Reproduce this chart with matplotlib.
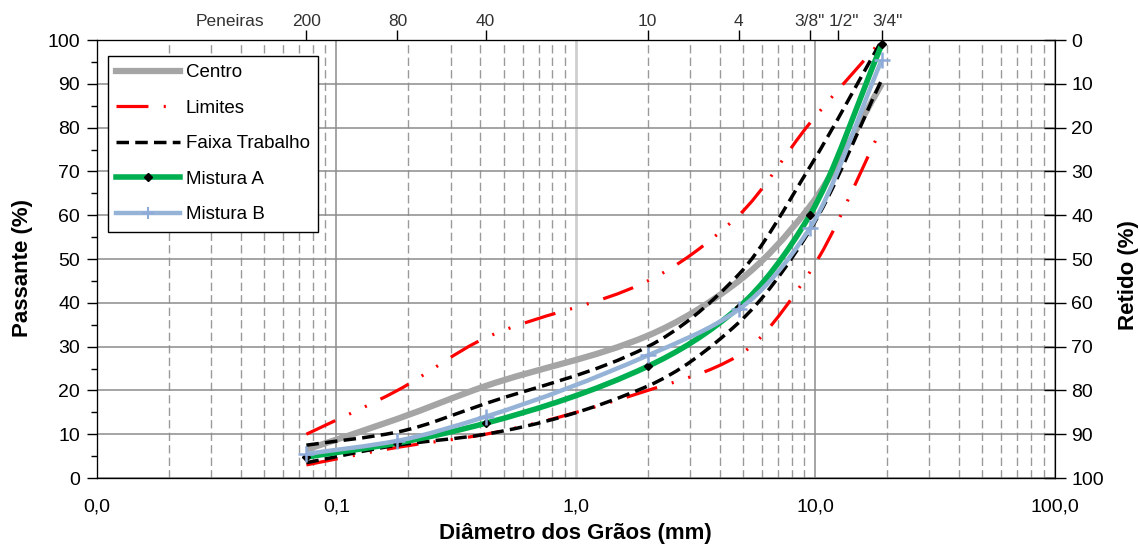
import numpy as np
import matplotlib
matplotlib.use('Agg')
import matplotlib.pyplot as plt
import matplotlib.transforms as mtransforms
from matplotlib.path import Path
from matplotlib.patches import PathPatch
from matplotlib.lines import Line2D
from matplotlib.ticker import FixedLocator, LogLocator, MultipleLocator, NullFormatter

plt.rcParams['font.family'] = ['Liberation Sans', 'DejaVu Sans']
plt.rcParams['lines.scale_dashes'] = False

# DATA: sieve openings (mm) and % passing
sieves = [0.075, 0.18, 0.42, 2.0, 4.8, 9.5, 19.0]
centro = [6.5, 13.5, 21, 32.5, 45, 62, 90]
lim_sup = [10, 20, 32, 45, 60, 81, 100]
lim_inf = [3, 7, 10, 20, 28, 47, 80]
faixa_sup = [7.5, 10.5, 17, 30, 46.5, 71, 100]
faixa_inf = [3.5, 7.5, 10, 21, 35.5, 56.5, 91]
mistura_a = [4.8, 8, 12.5, 25.5, 39, 60, 99]
mistura_b = [5.5, 8.5, 14, 28, 38.5, 57, 95.5]

# top axis sieve marks
sieve_ticks = [0.075, 0.18, 0.42, 2.0, 4.8, 9.5, 12.5, 19.0]
sieve_names = ['200', '80', '40', '10', '4', '3/8"', '1/2"', '3/4"']

x_ticks = [0.01, 0.1, 1, 10, 100]
x_ticklabels = ['0,0', '0,1', '1,0', '10,0', '100,0']
y_ticks = np.arange(0, 101, 10)


def smooth_path(x, y):
    # smoothed line through the points (monotone cubic, in log-x space)
    lx = np.log10(x)
    y = np.asarray(y, float)
    h = np.diff(lx)
    d = np.diff(y) / h
    n = len(lx)
    m = np.zeros(n)
    m[0], m[-1] = d[0], d[-1]
    for k in range(1, n - 1):
        if d[k - 1] * d[k] > 0:
            w1 = 2 * h[k] + h[k - 1]
            w2 = h[k] + 2 * h[k - 1]
            m[k] = (w1 + w2) / (w1 / d[k - 1] + w2 / d[k])
    verts = [(lx[0], y[0])]
    codes = [Path.MOVETO]
    for k in range(n - 1):
        verts += [(lx[k] + h[k] / 3, y[k] + m[k] * h[k] / 3),
                  (lx[k + 1] - h[k] / 3, y[k + 1] - m[k + 1] * h[k] / 3),
                  (lx[k + 1], y[k + 1])]
        codes += [Path.CURVE4] * 3
    verts = np.array(verts)
    verts[:, 0] = 10 ** verts[:, 0]
    return Path(verts, codes)


def curve(ax, x, y, **kw):
    ax.add_patch(PathPatch(smooth_path(x, y), fill=False, capstyle='butt', **kw))


fig = plt.figure(figsize=(11.4, 5.49), dpi=100)
ax = fig.add_axes([0.085, 0.1293, 0.84, 0.7977])

ax.set_xscale('log')
ax.set_xlim(0.01, 100)
ax.set_ylim(0, 100)

# grid
ax.xaxis.set_minor_locator(LogLocator(subs=np.arange(2, 10)))
ax.xaxis.set_minor_formatter(NullFormatter())
ax.yaxis.set_minor_locator(MultipleLocator(5))
ax.grid(which='major', axis='both', color='#8c8c8c', lw=1.1)
ax.grid(which='minor', axis='x', color='#9a9a9a', lw=1.0, linestyle=(0, (6, 3)))
ax.set_axisbelow(True)

dashdotdot = (0, (23, 11, 1.5, 11, 1.5, 11))
dashed = (0, (9, 4.5))

curve(ax, sieves, centro, edgecolor='#a5a5a5', lw=4.5, zorder=3)
curve(ax, sieves, lim_sup, edgecolor='#ff0000', lw=2.3, linestyle=dashdotdot, zorder=4)
curve(ax, sieves, lim_inf, edgecolor='#ff0000', lw=2.3, linestyle=dashdotdot, zorder=4)
curve(ax, sieves, faixa_sup, edgecolor='black', lw=2.5, linestyle=dashed, zorder=5)
curve(ax, sieves, faixa_inf, edgecolor='black', lw=2.5, linestyle=dashed, zorder=5)
curve(ax, sieves, mistura_a, edgecolor='#00b050', lw=4.0, zorder=6)
ax.plot(sieves, mistura_a, linestyle='none', marker='D', ms=4, color='black', zorder=6.5)
curve(ax, sieves, mistura_b, edgecolor='#95b3d7', lw=3.2, zorder=7)
ax.plot(sieves, mistura_b, linestyle='none', marker='+', ms=11, mew=1.8, color='#8eaad8', zorder=7.5)

# axes and ticks
ax.set_xticks(x_ticks)
ax.set_xticklabels(x_ticklabels)
ax.set_yticks(y_ticks)
ax.tick_params(axis='x', which='both', length=0, pad=15, labelsize=14)
ax.tick_params(axis='y', which='major', direction='out', length=7, width=1, pad=5, labelsize=14)
ax.tick_params(axis='y', which='minor', direction='out', length=4, width=1)
for s in ['left', 'bottom', 'top']:
    ax.spines[s].set_color('black')
ax.spines['right'].set_color('#808080')
xgrid = ax.get_xgridlines()
xgrid[2].set_color('#cfcfcf')
xgrid[2].set_linewidth(2)
ax.set_xlabel('Diâmetro dos Grãos (mm)', fontsize=16, fontweight='bold')
ax.xaxis.set_label_coords(0.5, -0.102)
ax.set_ylabel('Passante (%)', fontsize=16, fontweight='bold')
ax.yaxis.set_label_coords(-0.067, 0.479)

# right axis (retido)
ax2 = ax.twinx()
ax2.set_ylim(100, 0)
ax2.set_yticks(y_ticks)
ax2.tick_params(axis='y', direction='inout', length=16, width=1, pad=4, labelsize=14)
ax2.spines['right'].set_color('#808080')
ax2.set_ylabel('Retido (%)', fontsize=16, fontweight='bold')
ax2.yaxis.set_label_coords(1.066, 0.463)

# top axis (peneiras)
ax3 = ax.twiny()
ax3.set_xscale('log')
ax3.set_xlim(0.01, 100)
ax3.xaxis.set_major_locator(FixedLocator(sieve_ticks))
ax3.xaxis.set_minor_locator(FixedLocator([]))
ax3.set_xticklabels(sieve_names)
ax3.tick_params(axis='x', direction='out', length=7, width=1, pad=1, labelsize=12.5, labelcolor='#333333')
ax3.yaxis.set_visible(False)
shift = mtransforms.ScaledTranslation(6 / 100, 0, fig.dpi_scale_trans)
for lab in ax3.get_xticklabels()[6:]:
    lab.set_transform(lab.get_transform() + shift)
fig.text(230 / 1140, 1 - 22 / 549, 'Peneiras', ha='center', va='center', fontsize=12.5, color='#333333')

# legend
handles = [
    Line2D([], [], color='#a5a5a5', lw=4.5),
    Line2D([], [], color='#ff0000', lw=2.3, linestyle=dashdotdot),
    Line2D([], [], color='black', lw=2.5, linestyle=dashed),
    Line2D([], [], color='#00b050', lw=4.0, marker='D', ms=4, mfc='black', mec='black'),
    Line2D([], [], color='#95b3d7', lw=3.2, marker='+', ms=9, mew=1.5, mec='#8eaad8'),
]
labels = ['Centro', 'Limites', 'Faixa Trabalho', 'Mistura A', 'Mistura B']
leg = ax.legend(handles, labels, loc='upper left', bbox_to_anchor=(0.0115, 0.964), borderaxespad=0,
                fontsize=13.5, fancybox=False, framealpha=1, edgecolor='black', handlelength=3.4,
                handletextpad=0.3, labelspacing=0.98, borderpad=0.45)
leg.get_frame().set_linewidth(1.0)
leg.set_zorder(10)

fig.savefig('out.png', dpi=100)
